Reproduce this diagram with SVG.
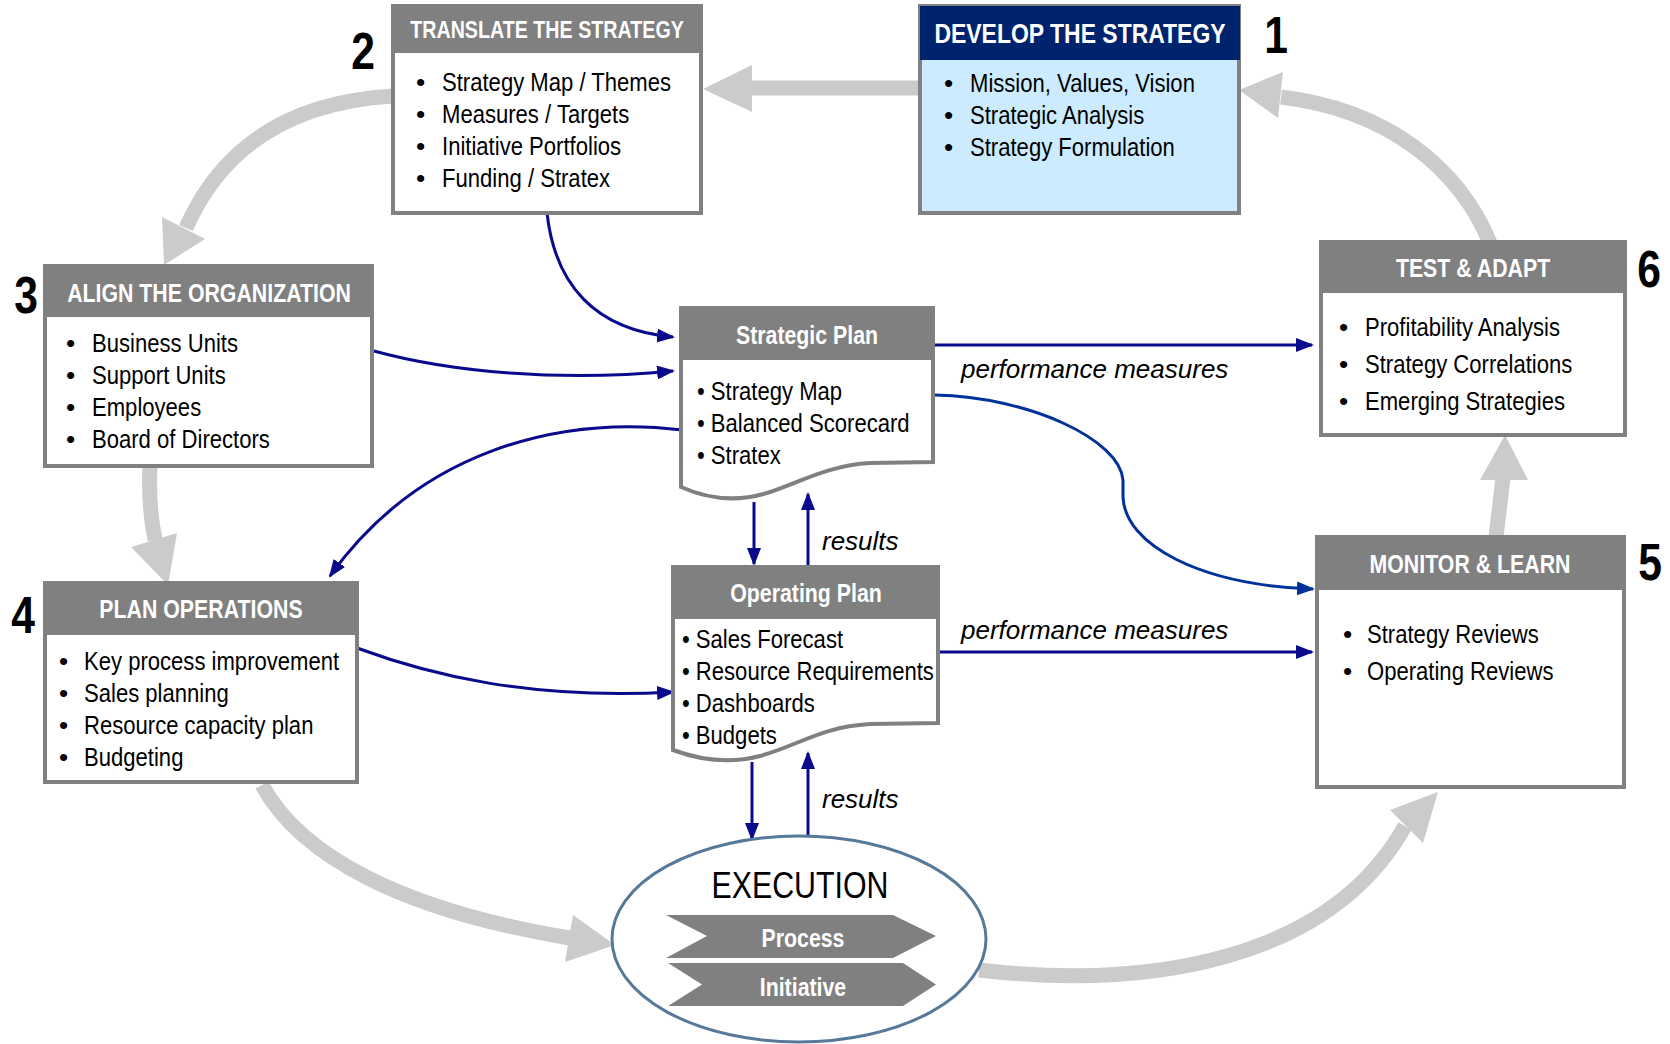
<svg xmlns="http://www.w3.org/2000/svg" width="1670" height="1044" viewBox="0 0 1670 1044">
<defs>
<style>
text{font-family:'Liberation Sans','Arial',sans-serif;}
.n{transform-box:fill-box;transform-origin:left center;transform:scaleX(0.84);}
.nc{transform-box:fill-box;transform-origin:center;transform:scaleX(0.82);}
.box{fill:#fff;stroke:#808080;stroke-width:4;}
.hd{fill:#808080;}
.ht{font-size:26px;font-weight:bold;fill:#fff;text-anchor:middle;}
.it{font-size:26.3px;fill:#000;}
.num{font-size:52px;font-weight:bold;fill:#000;text-anchor:middle;}
.lbl{font-size:26px;font-style:italic;fill:#000;}
.blue{fill:none;stroke:#0A0A8C;stroke-width:3;}
.gray{fill:none;stroke:#CBCBCB;stroke-width:15;}
.gh{fill:#CBCBCB;}
.chev{fill:#808080;}
</style>
<marker id="ab" markerUnits="userSpaceOnUse" markerWidth="18" markerHeight="14" refX="16" refY="7" orient="auto">
<path d="M0,0 L18,7 L0,14 z" fill="#0A0A8C"/>
</marker>
<marker id="ab2" markerUnits="userSpaceOnUse" markerWidth="18" markerHeight="14" refX="16" refY="7" orient="auto">
<path d="M0,0 L18,7 L0,14 z" fill="#003399"/>
</marker>
</defs>
<rect width="1670" height="1044" fill="#fff"/>

<g id="cycle-arrows">
<path class="gray" d="M920,88 L750,88"/>
<polygon class="gh" points="703,89 752,65 752,112"/>
<path class="gray" d="M393,96 Q240,105 186,228"/>
<polygon class="gh" points="164,265 162,217 205,239"/>
<path class="gray" d="M150,466 Q148,505 155,540"/>
<polygon class="gh" points="168,585 131,547 177,533"/>
<path class="gray" d="M262,785 C300,855 400,910 570,938"/>
<polygon class="gh" points="615,945 573,915 565,962"/>
<path class="gray" d="M979,970 C1150,990 1330,960 1405,826"/>
<polygon class="gh" points="1438,792 1390,810 1423,843"/>
<path class="gray" d="M1496,537 L1503,478"/>
<polygon class="gh" points="1505,435 1480,480 1528,480"/>
<path class="gray" d="M1490,243 C1460,170 1390,110 1281,97"/>
<polygon class="gh" points="1239,90 1283,72 1278,118"/>
</g>

<g id="connectors">
<path class="blue" d="M547,213 C555,285 595,330 673,337" marker-end="url(#ab)"/>
<path class="blue" d="M374,351 C450,372 560,382 673,371" marker-end="url(#ab)"/>
<path class="blue" d="M683,430 C560,415 420,450 330,576" marker-end="url(#ab)"/>
<path class="blue" d="M357,648 C430,675 530,700 673,692" marker-end="url(#ab)"/>
<path class="blue" d="M935,345 L1312,345" marker-end="url(#ab)"/>
<path class="blue" style="stroke:#003399" d="M935,395 C1030,397 1120,440 1123,480 L1123,497 C1125,545 1200,585 1313,589" marker-end="url(#ab2)"/>
<path class="blue" d="M940,652 L1312,652" marker-end="url(#ab)"/>
<path class="blue" d="M754,502 L754,564" marker-end="url(#ab)"/>
<path class="blue" d="M808,566 L808,494" marker-end="url(#ab)"/>
<path class="blue" d="M752,762 L752,839" marker-end="url(#ab)"/>
<path class="blue" d="M808,835 L808,753" marker-end="url(#ab)"/>
<text class="lbl" x="961" y="378">performance measures</text>
<text class="lbl" x="961" y="639">performance measures</text>
<text class="lbl" x="822" y="550">results</text>
<text class="lbl" x="822" y="808">results</text>
</g>

<g id="develop">
<rect x="920" y="6" width="319" height="207" fill="#CCEBFF" stroke="#808080" stroke-width="4"/>
<rect x="920" y="6" width="320" height="54" fill="#00236E"/>
<text class="ht nc" x="1080" y="43" style="font-size:28px">DEVELOP THE STRATEGY</text>
<text class="it" x="944" y="92">•</text><text class="it n" x="970" y="92">Mission, Values, Vision</text>
<text class="it" x="944" y="124">•</text><text class="it n" x="970" y="124">Strategic Analysis</text>
<text class="it" x="944" y="156">•</text><text class="it n" x="970" y="156">Strategy Formulation</text>
<text class="num nc" x="1276" y="53">1</text>
</g>

<g id="translate">
<rect class="box" x="393" y="6" width="308" height="207"/>
<rect class="hd" x="393" y="6" width="308" height="47"/>
<text class="ht nc" x="547" y="38" style="font-size:24px">TRANSLATE THE STRATEGY</text>
<text class="it" x="416" y="91">•</text><text class="it n" x="442" y="91">Strategy Map / Themes</text>
<text class="it" x="416" y="123">•</text><text class="it n" x="442" y="123">Measures / Targets</text>
<text class="it" x="416" y="155">•</text><text class="it n" x="442" y="155">Initiative Portfolios</text>
<text class="it" x="416" y="187">•</text><text class="it n" x="442" y="187">Funding / Stratex</text>
<text class="num nc" x="363" y="69">2</text>
</g>

<g id="align">
<rect class="box" x="45" y="266" width="327" height="200"/>
<rect class="hd" x="45" y="266" width="328" height="51"/>
<text class="ht nc" x="209" y="302">ALIGN THE ORGANIZATION</text>
<text class="it" x="66" y="352">•</text><text class="it n" x="92" y="352">Business Units</text>
<text class="it" x="66" y="384">•</text><text class="it n" x="92" y="384">Support Units</text>
<text class="it" x="66" y="416">•</text><text class="it n" x="92" y="416">Employees</text>
<text class="it" x="66" y="448">•</text><text class="it n" x="92" y="448">Board of Directors</text>
<text class="num nc" x="26" y="313">3</text>
</g>

<g id="plan-operations">
<rect class="box" x="45" y="583" width="312" height="199"/>
<rect class="hd" x="45" y="583" width="312" height="52"/>
<text class="ht nc" x="201" y="618">PLAN OPERATIONS</text>
<text class="it" x="59" y="670">•</text><text class="it n" x="84" y="670">Key process improvement</text>
<text class="it" x="59" y="702">•</text><text class="it n" x="84" y="702">Sales planning</text>
<text class="it" x="59" y="734">•</text><text class="it n" x="84" y="734">Resource capacity plan</text>
<text class="it" x="59" y="766">•</text><text class="it n" x="84" y="766">Budgeting</text>
<text class="num nc" x="23" y="633">4</text>
</g>

<g id="strategic-plan">
<path class="box" d="M681,308 L933,308 L933,462 L870,463 C830,465 800,482 770,492 C740,502 710,500 681,487 Z"/>
<rect class="hd" x="681" y="308" width="252" height="52"/>
<text class="ht nc" x="807" y="344">Strategic Plan</text>
<text class="it n" x="697" y="400">• Strategy Map</text>
<text class="it n" x="697" y="432">• Balanced Scorecard</text>
<text class="it n" x="697" y="464">• Stratex</text>
</g>

<g id="operating-plan">
<path class="box" d="M673,567 L938,567 L938,723 L870,724 C820,727 800,745 760,756 C730,764 700,760 673,750 Z"/>
<rect class="hd" x="673" y="567" width="267" height="52"/>
<text class="ht nc" x="806" y="602">Operating Plan</text>
<text class="it n" x="682" y="648">• Sales Forecast</text>
<text class="it n" x="682" y="680">• Resource Requirements</text>
<text class="it n" x="682" y="712">• Dashboards</text>
<text class="it n" x="682" y="744">• Budgets</text>
</g>

<g id="test-adapt">
<rect class="box" x="1321" y="242" width="304" height="193"/>
<rect class="hd" x="1321" y="242" width="304" height="51"/>
<text class="ht nc" x="1473" y="277">TEST &amp; ADAPT</text>
<text class="it" x="1339" y="336">•</text><text class="it n" x="1365" y="336">Profitability Analysis</text>
<text class="it" x="1339" y="373">•</text><text class="it n" x="1365" y="373">Strategy Correlations</text>
<text class="it" x="1339" y="410">•</text><text class="it n" x="1365" y="410">Emerging Strategies</text>
<text class="num nc" x="1649" y="287">6</text>
</g>

<g id="monitor-learn">
<rect class="box" x="1317" y="537" width="307" height="250"/>
<rect class="hd" x="1317" y="537" width="307" height="53"/>
<text class="ht nc" x="1470" y="573">MONITOR &amp; LEARN</text>
<text class="it" x="1343" y="643">•</text><text class="it n" x="1367" y="643">Strategy Reviews</text>
<text class="it" x="1343" y="680">•</text><text class="it n" x="1367" y="680">Operating Reviews</text>
<text class="num nc" x="1650" y="580">5</text>
</g>

<g id="execution">
<ellipse cx="799" cy="939" rx="187" ry="103" fill="#fff" stroke="#56799A" stroke-width="3"/>
<text class="nc" x="800" y="898" style="font-size:37px;text-anchor:middle;fill:#000">EXECUTION</text>
<polygon class="chev" points="666,915 893,915 936,936 893,958 666,958 707,936"/>
<text class="ht nc" x="803" y="947">Process</text>
<polygon class="chev" points="668,963 903,963 936,984.5 903,1006 668,1006 702,984.5"/>
<text class="ht nc" x="803" y="996">Initiative</text>
</g>
</svg>
